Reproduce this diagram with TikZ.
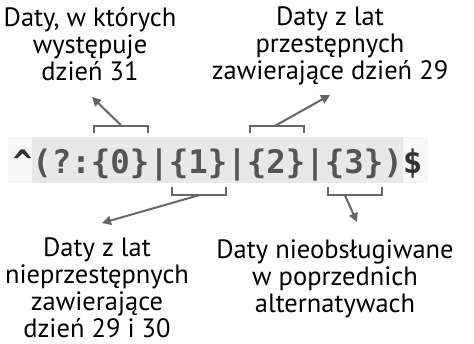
\documentclass[tikz,border=0pt]{standalone}
\usepackage{fontspec}
\setmainfont{PT Sans}
\newfontfamily\codefont{DejaVu Sans Mono}
\usetikzlibrary{arrows.meta,calc}

\definecolor{linegray}{HTML}{666666}
\definecolor{codebg}{HTML}{F7F7F7}
\definecolor{groupbg}{HTML}{E8E8E8}
\definecolor{codetext}{HTML}{555555}
\definecolor{anchortext}{HTML}{333333}

\tikzset{
  label/.style={align=center, inner sep=0pt, anchor=north,
    font=\fontsize{26.5}{27}\selectfont},
  code/.style={inner sep=0pt, anchor=base west, text=codetext,
    font=\codefont\bfseries\fontsize{32.4}{34}\selectfont},
  bracket/.style={linegray, line width=2pt},
  pointer/.style={linegray, line width=2pt, -{Triangle[length=9pt,width=9pt]}}
}

\begin{document}
\begin{tikzpicture}[x=1pt, y=-1pt]
\useasboundingbox (0,0) rectangle (474,344);

% code line
\fill[codebg] (8,137) rectangle (428,183);
\fill[groupbg] (32.25,137) rectangle (402.75,183);
\node[code, text=anchortext] (caret) at (12.75,174) {\textasciicircum};
\node[code] (open) at (32.25,174) {(?:};
\node[code] (grp0) at (90.75,174) {\{0\}};
\node[code] (bar1) at (149.25,174) {|};
\node[code] (grp1) at (168.75,174) {\{1\}};
\node[code] (bar2) at (227.25,174) {|};
\node[code] (grp2) at (246.75,174) {\{2\}};
\node[code] (bar3) at (305.25,174) {|};
\node[code] (grp3) at (324.75,174) {\{3\}};
\node[code] (close) at (383.25,174) {)};
\node[code, text=anchortext] (dollar) at (402.75,174) {\$};

% labels
\node[label] (lbl0) at (90,7) {Daty, w których\\występuje\\dzień 31};
\node[label] (lbl2) at (330,7) {Daty z lat\\przestępnych\\zawierające dzień 29};
\node[label] (lbl1) at (97,238) {Daty z lat\\nieprzestępnych\\zawierające\\dzień 29 i 30};
\node[label] (lbl3) at (335,240) {Daty nieobsługiwane\\w poprzednich\\alternatywach};

% brackets
\draw[bracket] ($(grp0.base west)+(3,-41)$) -- ++(0,-7) -- ++(54,0) -- ++(0,7);
\draw[bracket] ($(grp2.base west)+(3,-41)$) -- ++(0,-7) -- ++(54,0) -- ++(0,7);
\draw[bracket] ($(grp1.base west)+(3,13)$) -- ++(0,8) -- ++(54,0) -- ++(0,-8);
\draw[bracket] ($(grp3.base west)+(3,13)$) -- ++(0,8) -- ++(54,0) -- ++(0,-8);

% arrows
\coordinate (tip0) at (92,97);
\coordinate (tip2) at (330,95);
\coordinate (tip1) at (102,223);
\coordinate (tip3) at (357,222);
\draw[pointer] ($(grp0.base west)+(31,-48)$) -- (tip0);
\draw[pointer] ($(grp2.base west)+(28,-48)$) -- (tip2);
\draw[pointer] ($(grp1.base west)+(31,21)$) -- (tip1);
\draw[pointer] ($(grp3.base west)+(20,21)$) -- (tip3);
\end{tikzpicture}
\end{document}
